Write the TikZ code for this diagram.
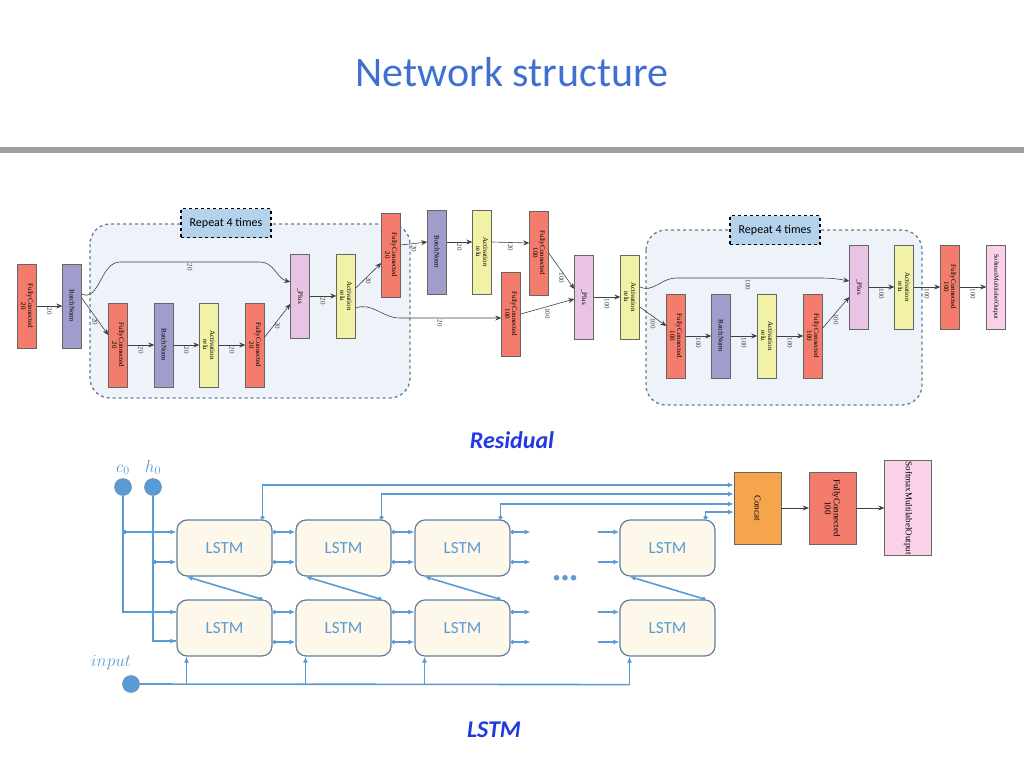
\documentclass[tikz,border=0pt]{standalone}
\usepackage{fontspec}
\setmainfont{Liberation Serif}
\newfontfamily\calib{Carlito}
\usetikzlibrary{arrows.meta,calc,positioning}
\definecolor{fcred}{HTML}{F47C6C}
\definecolor{bnblue}{HTML}{A09CCB}
\definecolor{actyel}{HTML}{F2F2A6}
\definecolor{pluspink}{HTML}{E9C3E3}
\definecolor{softpink}{HTML}{F9D2EA}
\definecolor{catorg}{HTML}{F5A54E}
\definecolor{lblue}{HTML}{5B9BD5}
\definecolor{lbord}{HTML}{5F7F9E}
\definecolor{lfill}{HTML}{FDF8EA}
\definecolor{titleblue}{HTML}{3F6FD0}
\definecolor{capblue}{HTML}{2238E0}
\definecolor{regfill}{HTML}{EEF3FA}
\tikzstyle{blk} = [draw=black!60, rotate=-90, minimum width=84, minimum height=19,
                   inner sep=1pt, align=center, font=\fontsize{7}{7}\selectfont]
\tikzstyle{fc} = [blk, fill=fcred]
\tikzstyle{bn} = [blk, fill=bnblue]
\tikzstyle{act} = [blk, fill=actyel]
\tikzstyle{plus} = [blk, fill=pluspink]
\tikzstyle{edge} = [-{Stealth[length=6pt,width=5pt]}, black!75, semithick]
\tikzstyle{lbl} = [rotate=-90, anchor=west, inner sep=1.5pt, font=\fontsize{7}{7}\selectfont]
\tikzstyle{repeat} = [rounded corners=20, dashed, draw=lbord, line width=1.3, fill=regfill]
\tikzstyle{rtag} = [draw, dashed, line width=1.5, fill=lblue!45, minimum width=90, minimum height=29, font=\calib\fontsize{12}{12}\selectfont]
\tikzstyle{lstm} = [draw=lbord, line width=1.2, fill=lfill, rounded corners=10, minimum width=95, minimum height=56,
                    text=lblue, font=\calib\fontsize{17}{17}\selectfont]
\tikzstyle{lline} = [lblue, line width=1.6]
\tikzstyle{larr} = [lblue, line width=1.6, {Circle[length=4pt]}-{Latex[length=6pt,width=5pt]}]
\tikzstyle{state} = [circle, fill=lblue, draw=lbord, minimum size=17, inner sep=0]
\begin{document}
\begin{tikzpicture}[x=1pt,y=-1pt]
\useasboundingbox (0,0) rectangle (1024,768);
% Title
\node[text=titleblue, font=\calib\fontsize{42}{42}\selectfont] (title) at (512,72) {Network structure};
\fill[black!38] (0,147) rectangle (1024,153);

% Repeat regions
\draw[repeat] (90,224) rectangle (410,398);
\draw[repeat] (646,230) rectangle (922,405);
\node[rtag] (rep1) at (226,223) {Repeat 4 times};
\node[rtag] (rep2) at (775,230) {Repeat 4 times};

% Residual blocks
\node[fc] (fcA) at (27,306) {FullyConnected\\20};
\node[bn] (bnA) at (72,306) {BatchNorm};
\node[fc] (fcB) at (118,345) {FullyConnected\\20};
\node[bn] (bnB) at (164,345) {BatchNorm};
\node[act] (actB) at (209,345) {Activation\\relu};
\node[fc] (fcC) at (255,345) {FullyConnected\\20};
\node[plus] (plusA) at (300,296) {\_Plus};
\node[act] (actA) at (346,296) {Activation\\relu};
\node[fc] (fcD) at (391,255) {FullyConnected\\20};
\node[bn] (bnD) at (437,252) {BatchNorm};
\node[act] (actD) at (482,252) {Activation\\relu};
\node[fc] (fcE) at (539,253) {FullyConnected\\100};
\node[fc] (fcF) at (511,314) {FullyConnected\\100};
\node[plus] (plusB) at (584,297) {\_Plus};
\node[act] (actE) at (630,297) {Activation\\relu};
\node[fc] (fcG) at (676,336) {FullyConnected\\100};
\node[bn] (bnG) at (721,336) {BatchNorm};
\node[act] (actG) at (767,336) {Activation\\relu};
\node[fc] (fcH) at (813,336) {FullyConnected\\100};
\node[plus] (plusC) at (859,287) {\_Plus};
\node[act] (actH) at (904,287) {Activation\\relu};
\node[fc] (fcI) at (950,287) {FullyConnected\\100};
\node[blk, fill=softpink, font=\fontsize{6.3}{6.3}\selectfont] (soft) at (996,287) {SoftmaxMultilabelOutput};

% Residual edges
\draw[edge] (fcA.north) -- (bnA.south) node[midway,lbl]{20};
\draw[edge] ($(bnA.north)+(0,-8)$) -- ($(fcB.south)+(0,-10)$) node[midway,lbl]{20};
\draw[edge] ($(bnA.north)+(0,-12)$) to[out=-25,in=180] (120,262) -- (260,262) node[midway,lbl]{20} to[out=0,in=165] ($(plusA.south)+(0,-14)$);
\draw[edge] (fcB.north) -- (bnB.south) node[midway,lbl]{20};
\draw[edge] (bnB.north) -- (actB.south) node[midway,lbl]{20};
\draw[edge] (actB.north) -- (fcC.south) node[midway,lbl]{20};
\draw[edge] ($(fcC.north)+(0,-8)$) -- ($(plusA.south)+(0,8)$) node[midway,lbl]{20};
\draw[edge] (plusA.north) -- (actA.south) node[midway,lbl]{20};
\draw[edge] ($(actA.north)+(0,-8)$) -- ($(fcD.south)+(0,8)$) node[midway,lbl]{20};
\draw[edge] ($(actA.north)+(0,12)$) to[out=20,in=180] (400,318) -- (480,318) node[midway,lbl]{20} -- ($(fcF.south)+(0,4)$);
\draw[edge] ($(fcD.north)+(0,-10)$) -- ($(bnD.south)+(0,-10)$) node[midway,lbl]{20};
\draw[edge] ($(bnD.north)+(0,-10)$) -- ($(actD.south)+(0,-10)$) node[midway,lbl]{20};
\draw[edge] ($(actD.north)+(0,-10)$) -- ($(fcE.south)+(0,-10)$) node[midway,lbl]{20};
\draw[edge] ($(fcE.north)+(0,0)$) -- ($(plusB.south)+(0,-8)$) node[midway,lbl]{100};
\draw[edge] ($(fcF.north)+(0,0)$) -- ($(plusB.south)+(0,2)$) node[midway,lbl]{100};
\draw[edge] (plusB.north) -- (actE.south) node[midway,lbl]{100};
\draw[edge] ($(actE.north)+(0,10)$) -- ($(fcG.south)+(0,-10)$) node[midway,lbl]{100};
\draw[edge] ($(actE.north)+(0,-10)$) to[out=-25,in=180] (676,278) -- (820,278) node[midway,lbl]{100} to[out=0,in=170] ($(plusC.south)+(0,-6)$);
\draw[edge] (fcG.north) -- (bnG.south) node[midway,lbl]{100};
\draw[edge] (bnG.north) -- (actG.south) node[midway,lbl]{100};
\draw[edge] (actG.north) -- (fcH.south) node[midway,lbl]{100};
\draw[edge] ($(fcH.north)+(0,-8)$) -- ($(plusC.south)+(0,10)$) node[midway,lbl]{100};
\draw[edge] (plusC.north) -- (actH.south) node[midway,lbl]{100};
\draw[edge] (actH.north) -- (fcI.south) node[midway,lbl]{100};
\draw[edge] (fcI.north) -- (soft.south) node[midway,lbl]{100};

\node[font=\calib\bfseries\itshape\fontsize{24}{24}\selectfont, text=capblue] (res) at (512,440) {Residual};

% LSTM part
\foreach \c/\x in {1/224.5,2/343.5,3/462.5,4/667.5}{
  \node[lstm] (lstm1\c) at (\x,548) {LSTM};
  \node[lstm] (lstm2\c) at (\x,628) {LSTM};
}
\node[state] (c0) at (123,487) {};
\node[state] (h0) at (153,487) {};
\node[state] (in) at (131,684) {};
\node[text=lblue, above=0pt of c0, font=\fontsize{17}{17}\selectfont] (c0l) {$c_0$};
\node[text=lblue, above=0pt of h0, font=\fontsize{17}{17}\selectfont] (h0l) {$h_0$};
\node[text=lblue, font=\fontsize{17}{17}\selectfont] (inl) at (111,663) {$input$};
\node[text=lblue, font=\bfseries\fontsize{34}{34}\selectfont] (dots) at (565,578) {...};

\node[blk, fill=catorg, minimum width=72, minimum height=47, font=\fontsize{9}{9}\selectfont] (cat) at (757.5,508) {Concat};
\node[blk, fill=fcred, minimum width=72, minimum height=47, font=\fontsize{9}{9}\selectfont] (fcL) at (832.5,508) {FullyConnected\\100};
\node[blk, fill=softpink, minimum width=72, minimum height=47, font=\fontsize{9}{9}\selectfont] (softL) at (908,508) {SoftmaxMultilabelOutput};
\draw[edge] (cat.north) -- (fcL.south);
\draw[edge] (fcL.north) -- (softL.south);

% initial states
\draw[lline] (c0.south) |- ($(lstm21.west)+(0,-16)$);
\draw[lline] (h0.south) |- ($(lstm21.west)+(0,13)$);
\draw[larr] (c0.south |- lstm11.west) ++(0,-16) -- ($(lstm11.west)+(0,-16)$);
\draw[larr] (h0.south |- lstm11.west) ++(0,14) -- ($(lstm11.west)+(0,14)$);
\draw[-{Latex[length=6pt,width=5pt]}, lline] ($(lstm21.west)+(-15,-16)$) -- ($(lstm21.west)+(0,-16)$);
\draw[-{Latex[length=6pt,width=5pt]}, lline] ($(lstm21.west)+(-15,13)$) -- ($(lstm21.west)+(0,13)$);

% chain connections
\foreach \r in {1,2}{
  \foreach \a/\b in {1/2,2/3}{
    \draw[larr] ($(lstm\r\a.east)+(0,-16)$) -- ($(lstm\r\b.west)+(0,-16)$);
    \draw[larr] ($(lstm\r\a.east)+(0,14)$) -- ($(lstm\r\b.west)+(0,14)$);
  }
  \draw[larr] ($(lstm\r3.east)+(0,-16)$) -- ($(lstm\r3.east)+(20,-16)$);
  \draw[larr] ($(lstm\r3.east)+(0,14)$) -- ($(lstm\r3.east)+(20,14)$);
  \draw[lline,-{Latex[length=6pt,width=5pt]}] ($(lstm\r4.west)+(-21,-16)$) -- ($(lstm\r4.west)+(0,-16)$);
  \draw[lline,-{Latex[length=6pt,width=5pt]}] ($(lstm\r4.west)+(-21,14)$) -- ($(lstm\r4.west)+(0,14)$);
}
% layer connections
\foreach \c in {1,2,3,4}{
  \draw[larr] ($(lstm2\c.north)+(38,0)$) -- ($(lstm1\c.south)+(-38,0)$);
  \coordinate (up\c) at ($(lstm2\c.south)+(-38,28)$);
  \draw[lline,-{Latex[length=6pt,width=5pt]}] (up\c) -- ($(lstm2\c.south)+(-38,0)$);
}
\draw[lline] (in.east) -- (up4);
% outputs to concat
\foreach \c/\dy in {1/-23,2/-14,3/-4,4/4}{
  \draw[lline,{Circle[length=4pt]}-{Latex[length=6pt,width=5pt]}] ($(lstm1\c.north)+(38,0)$) |- ($(cat.south)+(0,\dy)$);
}
\node[font=\calib\bfseries\itshape\fontsize{24}{24}\selectfont, text=capblue] (lstml) at (494,730) {LSTM};
\end{tikzpicture}
\end{document}
